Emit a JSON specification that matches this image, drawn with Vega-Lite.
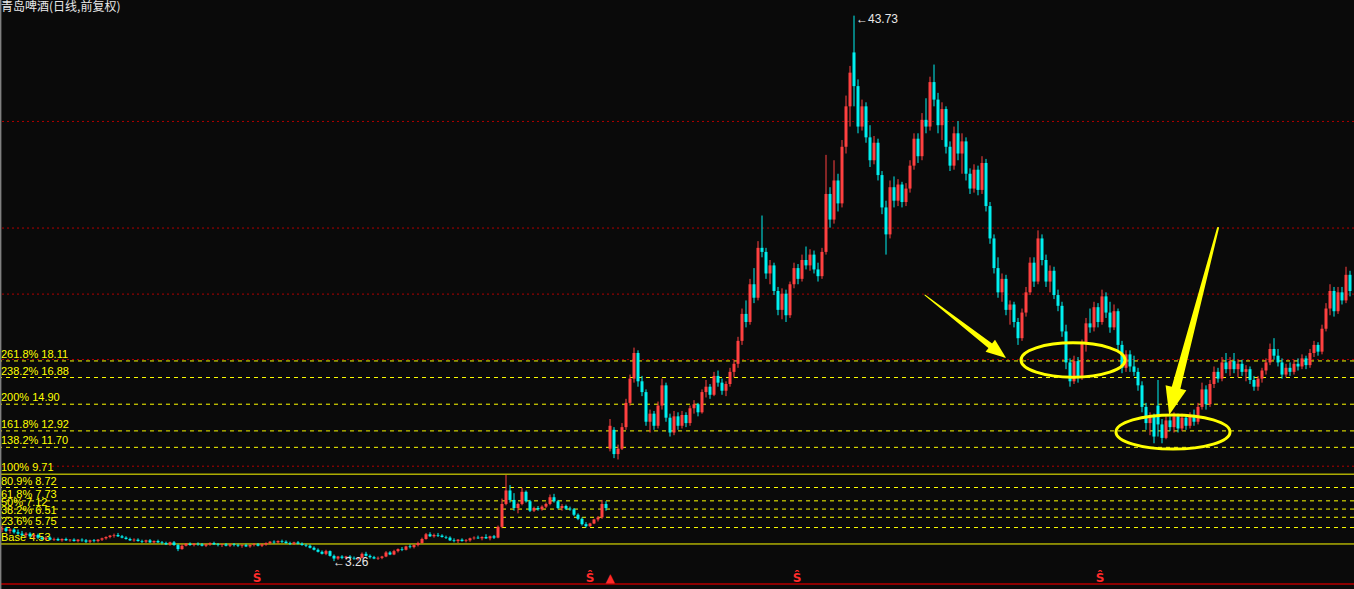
{
"$schema": "https://vega.github.io/schema/vega-lite/v6.json",
"width": 1354, "height": 589,
"autosize": {"type": "none"},
"padding": 0,
"background": "#0a0a0a",
"config": {"view": {"stroke": null}, "scale": {"continuousPadding": 0}},
"datasets": {
"candles": [
{"i":0,"o":5.6,"h":5.9,"l":5.4,"c":5.7},{"i":1,"o":5.7,"h":5.8,"l":5.4,"c":5.5},{"i":2,"o":5.5,"h":5.7,"l":5.3,"c":5.6},{"i":3,"o":5.6,"h":5.7,"l":5.3,"c":5.4},{"i":4,"o":5.4,"h":5.6,"l":5.2,"c":5.3},
{"i":5,"o":5.3,"h":5.5,"l":5.1,"c":5.2},{"i":6,"o":5.2,"h":5.4,"l":5.0,"c":5.3},{"i":7,"o":5.3,"h":5.4,"l":5.0,"c":5.1},{"i":8,"o":5.1,"h":5.3,"l":4.9,"c":5.2},{"i":9,"o":5.2,"h":5.3,"l":4.9,"c":5.0},
{"i":10,"o":5.0,"h":5.1,"l":4.8,"c":4.9},{"i":11,"o":4.9,"h":5.1,"l":4.8,"c":5.0},{"i":12,"o":5.0,"h":5.1,"l":4.8,"c":4.85},{"i":13,"o":4.85,"h":5.0,"l":4.75,"c":4.9},{"i":14,"o":4.9,"h":5.0,"l":4.75,"c":4.8},
{"i":15,"o":4.8,"h":4.95,"l":4.7,"c":4.9},{"i":16,"o":4.9,"h":5.0,"l":4.75,"c":4.8},{"i":17,"o":4.8,"h":4.9,"l":4.7,"c":4.85},{"i":18,"o":4.85,"h":4.95,"l":4.7,"c":4.75},{"i":19,"o":4.75,"h":4.9,"l":4.65,"c":4.85},
{"i":20,"o":4.85,"h":4.95,"l":4.7,"c":4.8},{"i":21,"o":4.8,"h":4.9,"l":4.6,"c":4.7},{"i":22,"o":4.7,"h":4.85,"l":4.6,"c":4.8},{"i":23,"o":4.8,"h":4.9,"l":4.65,"c":4.75},{"i":24,"o":4.75,"h":4.9,"l":4.65,"c":4.85},
{"i":25,"o":4.85,"h":5.0,"l":4.75,"c":4.95},{"i":26,"o":4.95,"h":5.1,"l":4.85,"c":5.05},{"i":27,"o":5.05,"h":5.2,"l":4.95,"c":5.15},{"i":28,"o":5.15,"h":5.3,"l":5.0,"c":5.2},{"i":29,"o":5.2,"h":5.35,"l":5.05,"c":5.1},
{"i":30,"o":5.1,"h":5.2,"l":4.95,"c":5.0},{"i":31,"o":5.0,"h":5.1,"l":4.85,"c":4.9},{"i":32,"o":4.9,"h":5.0,"l":4.75,"c":4.8},{"i":33,"o":4.8,"h":4.95,"l":4.7,"c":4.85},{"i":34,"o":4.85,"h":4.95,"l":4.7,"c":4.75},
{"i":35,"o":4.75,"h":4.85,"l":4.6,"c":4.7},{"i":36,"o":4.7,"h":4.85,"l":4.6,"c":4.8},{"i":37,"o":4.8,"h":4.9,"l":4.6,"c":4.65},{"i":38,"o":4.65,"h":4.8,"l":4.55,"c":4.75},{"i":39,"o":4.75,"h":4.85,"l":4.6,"c":4.65},
{"i":40,"o":4.65,"h":4.75,"l":4.5,"c":4.6},{"i":41,"o":4.6,"h":4.7,"l":4.45,"c":4.5},{"i":42,"o":4.5,"h":4.7,"l":4.4,"c":4.65},{"i":43,"o":4.65,"h":4.75,"l":4.4,"c":4.45},{"i":44,"o":4.45,"h":4.55,"l":4.0,"c":4.15},
{"i":45,"o":4.15,"h":4.5,"l":4.1,"c":4.4},{"i":46,"o":4.4,"h":4.6,"l":4.35,"c":4.55},{"i":47,"o":4.55,"h":4.65,"l":4.4,"c":4.45},{"i":48,"o":4.45,"h":4.6,"l":4.35,"c":4.55},{"i":49,"o":4.55,"h":4.65,"l":4.4,"c":4.5},
{"i":50,"o":4.5,"h":4.6,"l":4.35,"c":4.4},{"i":51,"o":4.4,"h":4.55,"l":4.3,"c":4.5},{"i":52,"o":4.5,"h":4.65,"l":4.4,"c":4.6},{"i":53,"o":4.6,"h":4.7,"l":4.45,"c":4.5},{"i":54,"o":4.5,"h":4.6,"l":4.35,"c":4.45},
{"i":55,"o":4.45,"h":4.55,"l":4.3,"c":4.5},{"i":56,"o":4.5,"h":4.6,"l":4.35,"c":4.4},{"i":57,"o":4.4,"h":4.55,"l":4.3,"c":4.5},{"i":58,"o":4.5,"h":4.6,"l":4.35,"c":4.45},{"i":59,"o":4.45,"h":4.55,"l":4.3,"c":4.4},
{"i":60,"o":4.4,"h":4.5,"l":4.25,"c":4.45},{"i":61,"o":4.45,"h":4.55,"l":4.3,"c":4.35},{"i":62,"o":4.35,"h":4.5,"l":4.25,"c":4.45},{"i":63,"o":4.45,"h":4.6,"l":4.35,"c":4.5},{"i":64,"o":4.5,"h":4.6,"l":4.35,"c":4.4},
{"i":65,"o":4.4,"h":4.55,"l":4.3,"c":4.5},{"i":66,"o":4.5,"h":4.65,"l":4.4,"c":4.6},{"i":67,"o":4.6,"h":4.75,"l":4.5,"c":4.7},{"i":68,"o":4.7,"h":4.8,"l":4.55,"c":4.65},{"i":69,"o":4.65,"h":4.8,"l":4.55,"c":4.75},
{"i":70,"o":4.75,"h":4.85,"l":4.6,"c":4.7},{"i":71,"o":4.7,"h":4.8,"l":4.55,"c":4.6},{"i":72,"o":4.6,"h":4.7,"l":4.45,"c":4.55},{"i":73,"o":4.55,"h":4.7,"l":4.45,"c":4.65},{"i":74,"o":4.65,"h":4.75,"l":4.5,"c":4.55},
{"i":75,"o":4.55,"h":4.65,"l":4.4,"c":4.45},{"i":76,"o":4.45,"h":4.55,"l":4.3,"c":4.4},{"i":77,"o":4.4,"h":4.5,"l":4.2,"c":4.25},{"i":78,"o":4.25,"h":4.35,"l":4.05,"c":4.1},{"i":79,"o":4.1,"h":4.2,"l":3.9,"c":3.95},
{"i":80,"o":3.95,"h":4.05,"l":3.75,"c":3.8},{"i":81,"o":3.8,"h":4.1,"l":3.7,"c":4.0},{"i":82,"o":4.0,"h":4.05,"l":3.6,"c":3.65},{"i":83,"o":3.65,"h":3.75,"l":3.26,"c":3.45},{"i":84,"o":3.45,"h":3.65,"l":3.35,"c":3.6},
{"i":85,"o":3.6,"h":3.7,"l":3.4,"c":3.5},{"i":86,"o":3.5,"h":3.65,"l":3.4,"c":3.6},{"i":87,"o":3.6,"h":3.7,"l":3.45,"c":3.5},{"i":88,"o":3.5,"h":3.6,"l":3.35,"c":3.45},{"i":89,"o":3.45,"h":3.55,"l":3.3,"c":3.5},
{"i":90,"o":3.5,"h":3.9,"l":3.45,"c":3.8},{"i":91,"o":3.8,"h":3.95,"l":3.6,"c":3.65},{"i":92,"o":3.65,"h":3.75,"l":3.45,"c":3.55},{"i":93,"o":3.55,"h":3.65,"l":3.4,"c":3.45},{"i":94,"o":3.45,"h":3.6,"l":3.35,"c":3.5},
{"i":95,"o":3.5,"h":3.65,"l":3.4,"c":3.6},{"i":96,"o":3.6,"h":4.0,"l":3.55,"c":3.9},{"i":97,"o":3.9,"h":4.0,"l":3.7,"c":3.75},{"i":98,"o":3.75,"h":4.1,"l":3.7,"c":4.0},{"i":99,"o":4.0,"h":4.2,"l":3.9,"c":4.15},
{"i":100,"o":4.15,"h":4.3,"l":4.0,"c":4.1},{"i":101,"o":4.1,"h":4.4,"l":4.05,"c":4.35},{"i":102,"o":4.35,"h":4.5,"l":4.2,"c":4.3},{"i":103,"o":4.3,"h":4.5,"l":4.2,"c":4.45},{"i":104,"o":4.45,"h":4.7,"l":4.35,"c":4.6},
{"i":105,"o":4.6,"h":5.0,"l":4.55,"c":4.9},{"i":106,"o":4.9,"h":5.35,"l":4.85,"c":5.25},{"i":107,"o":5.25,"h":5.4,"l":5.05,"c":5.1},{"i":108,"o":5.1,"h":5.3,"l":5.0,"c":5.2},{"i":109,"o":5.2,"h":5.35,"l":5.05,"c":5.15},
{"i":110,"o":5.15,"h":5.25,"l":5.0,"c":5.05},{"i":111,"o":5.05,"h":5.15,"l":4.9,"c":5.0},{"i":112,"o":5.0,"h":5.1,"l":4.75,"c":4.8},{"i":113,"o":4.8,"h":4.95,"l":4.65,"c":4.75},{"i":114,"o":4.75,"h":4.9,"l":4.6,"c":4.85},
{"i":115,"o":4.85,"h":4.95,"l":4.7,"c":4.75},{"i":116,"o":4.75,"h":4.9,"l":4.65,"c":4.8},{"i":117,"o":4.8,"h":5.0,"l":4.7,"c":4.95},{"i":118,"o":4.95,"h":5.1,"l":4.85,"c":5.0},{"i":119,"o":5.0,"h":5.15,"l":4.9,"c":4.95},
{"i":120,"o":4.95,"h":5.1,"l":4.8,"c":5.05},{"i":121,"o":5.05,"h":5.25,"l":4.9,"c":4.95},{"i":122,"o":4.95,"h":5.15,"l":4.8,"c":5.1},{"i":123,"o":5.1,"h":5.2,"l":4.9,"c":5.0},{"i":124,"o":5.0,"h":5.9,"l":4.95,"c":5.8},
{"i":125,"o":5.8,"h":7.9,"l":5.7,"c":7.5},{"i":126,"o":7.5,"h":9.65,"l":7.4,"c":8.5},{"i":127,"o":8.5,"h":8.9,"l":7.6,"c":7.8},{"i":128,"o":7.8,"h":8.3,"l":7.0,"c":7.2},{"i":129,"o":7.2,"h":7.6,"l":6.8,"c":7.5},
{"i":130,"o":7.5,"h":8.7,"l":7.4,"c":8.4},{"i":131,"o":8.4,"h":8.5,"l":7.6,"c":7.7},{"i":132,"o":7.7,"h":7.8,"l":6.9,"c":7.0},{"i":133,"o":7.0,"h":7.3,"l":6.9,"c":7.2},{"i":134,"o":7.2,"h":7.35,"l":7.0,"c":7.1},
{"i":135,"o":7.1,"h":7.4,"l":7.0,"c":7.3},{"i":136,"o":7.3,"h":7.6,"l":7.2,"c":7.5},{"i":137,"o":7.5,"h":8.2,"l":7.4,"c":8.0},{"i":138,"o":8.0,"h":8.25,"l":7.6,"c":7.7},{"i":139,"o":7.7,"h":7.8,"l":7.1,"c":7.2},
{"i":140,"o":7.2,"h":7.5,"l":7.0,"c":7.35},{"i":141,"o":7.35,"h":7.45,"l":7.05,"c":7.15},{"i":142,"o":7.15,"h":7.3,"l":7.0,"c":7.1},{"i":143,"o":7.1,"h":7.2,"l":6.6,"c":6.7},{"i":144,"o":6.7,"h":6.8,"l":6.3,"c":6.4},
{"i":145,"o":6.4,"h":6.5,"l":5.9,"c":6.0},{"i":146,"o":6.0,"h":6.15,"l":5.75,"c":5.85},{"i":147,"o":5.85,"h":6.1,"l":5.8,"c":6.05},{"i":148,"o":6.05,"h":6.4,"l":6.0,"c":6.35},{"i":149,"o":6.35,"h":6.6,"l":6.2,"c":6.5},
{"i":150,"o":6.5,"h":7.8,"l":6.4,"c":7.5},{"i":151,"o":7.5,"h":7.7,"l":7.0,"c":7.2},{"i":152,"o":11.6,"h":13.8,"l":11.4,"c":13.3},{"i":153,"o":13.0,"h":13.2,"l":10.9,"c":11.2},{"i":154,"o":11.2,"h":11.9,"l":10.8,"c":11.6},
{"i":155,"o":11.6,"h":13.5,"l":11.5,"c":13.2},{"i":156,"o":13.2,"h":15.3,"l":13.0,"c":15.0},{"i":157,"o":15.0,"h":17.1,"l":14.8,"c":16.8},{"i":158,"o":16.8,"h":19.1,"l":16.5,"c":18.7},{"i":159,"o":18.7,"h":18.9,"l":16.2,"c":16.6},
{"i":160,"o":16.6,"h":17.0,"l":15.5,"c":15.8},{"i":161,"o":15.8,"h":16.0,"l":13.3,"c":13.6},{"i":162,"o":13.6,"h":14.5,"l":12.8,"c":14.2},{"i":163,"o":14.2,"h":14.4,"l":13.0,"c":13.3},{"i":164,"o":13.3,"h":15.1,"l":13.1,"c":14.8},
{"i":165,"o":14.8,"h":16.8,"l":14.5,"c":16.3},{"i":166,"o":16.3,"h":16.5,"l":13.6,"c":13.9},{"i":167,"o":13.9,"h":14.2,"l":12.5,"c":12.8},{"i":168,"o":12.8,"h":14.4,"l":12.6,"c":14.0},{"i":169,"o":14.0,"h":14.3,"l":13.0,"c":13.3},
{"i":170,"o":13.3,"h":14.4,"l":13.1,"c":14.1},{"i":171,"o":14.1,"h":14.3,"l":13.2,"c":13.5},{"i":172,"o":13.5,"h":14.8,"l":13.3,"c":14.6},{"i":173,"o":14.6,"h":15.2,"l":14.2,"c":14.9},{"i":174,"o":14.9,"h":15.0,"l":14.0,"c":14.3},
{"i":175,"o":14.3,"h":16.0,"l":14.2,"c":15.8},{"i":176,"o":15.8,"h":16.7,"l":15.4,"c":16.2},{"i":177,"o":16.2,"h":16.4,"l":15.3,"c":15.6},{"i":178,"o":15.6,"h":17.3,"l":15.5,"c":17.0},{"i":179,"o":17.0,"h":17.4,"l":16.2,"c":16.5},
{"i":180,"o":16.5,"h":16.8,"l":15.6,"c":15.9},{"i":181,"o":15.9,"h":16.6,"l":15.5,"c":16.4},{"i":182,"o":16.4,"h":17.6,"l":16.2,"c":17.3},{"i":183,"o":17.3,"h":18.2,"l":16.9,"c":17.9},{"i":184,"o":17.9,"h":19.9,"l":17.6,"c":19.6},
{"i":185,"o":19.6,"h":22.0,"l":19.3,"c":21.6},{"i":186,"o":21.6,"h":22.6,"l":20.6,"c":21.0},{"i":187,"o":21.0,"h":24.2,"l":20.8,"c":23.8},{"i":188,"o":23.8,"h":25.0,"l":22.4,"c":22.8},{"i":189,"o":22.8,"h":27.0,"l":22.6,"c":26.5},
{"i":190,"o":26.5,"h":28.9,"l":25.8,"c":26.2},{"i":191,"o":26.2,"h":26.5,"l":24.2,"c":24.6},{"i":192,"o":24.6,"h":25.6,"l":23.8,"c":25.2},{"i":193,"o":25.2,"h":25.4,"l":23.0,"c":23.3},{"i":194,"o":23.3,"h":23.6,"l":21.5,"c":21.9},
{"i":195,"o":21.9,"h":23.5,"l":21.2,"c":23.1},{"i":196,"o":23.1,"h":23.4,"l":21.0,"c":21.5},{"i":197,"o":21.5,"h":24.0,"l":21.3,"c":23.8},{"i":198,"o":23.8,"h":25.4,"l":23.5,"c":25.0},{"i":199,"o":25.0,"h":25.3,"l":23.8,"c":24.2},
{"i":200,"o":24.2,"h":26.0,"l":24.0,"c":25.6},{"i":201,"o":25.6,"h":26.6,"l":24.9,"c":25.2},{"i":202,"o":25.2,"h":26.4,"l":24.8,"c":26.0},{"i":203,"o":26.0,"h":26.3,"l":24.6,"c":24.9},{"i":204,"o":24.9,"h":25.4,"l":24.0,"c":24.4},
{"i":205,"o":24.4,"h":26.5,"l":24.2,"c":26.2},{"i":206,"o":26.2,"h":33.4,"l":26.0,"c":30.5},{"i":207,"o":30.5,"h":31.0,"l":28.0,"c":28.6},{"i":208,"o":28.6,"h":33.0,"l":28.3,"c":31.5},{"i":209,"o":31.5,"h":32.0,"l":29.2,"c":29.8},
{"i":210,"o":29.8,"h":34.5,"l":29.5,"c":34.0},{"i":211,"o":34.0,"h":37.8,"l":33.5,"c":37.0},{"i":212,"o":37.0,"h":40.0,"l":35.5,"c":39.5},{"i":213,"o":41.0,"h":43.73,"l":37.0,"c":38.5},{"i":214,"o":38.5,"h":39.0,"l":35.0,"c":35.5},
{"i":215,"o":35.5,"h":37.5,"l":35.2,"c":37.0},{"i":216,"o":37.0,"h":37.3,"l":34.3,"c":34.7},{"i":217,"o":34.7,"h":35.6,"l":32.5,"c":33.0},{"i":218,"o":33.0,"h":34.8,"l":32.7,"c":34.3},{"i":219,"o":34.3,"h":34.6,"l":31.5,"c":31.9},
{"i":220,"o":31.9,"h":32.2,"l":29.0,"c":29.5},{"i":221,"o":29.5,"h":30.0,"l":26.0,"c":27.5},{"i":222,"o":27.5,"h":31.5,"l":27.2,"c":31.0},{"i":223,"o":31.0,"h":31.8,"l":29.5,"c":30.0},{"i":224,"o":30.0,"h":31.6,"l":29.6,"c":31.2},
{"i":225,"o":31.2,"h":31.4,"l":29.5,"c":29.9},{"i":226,"o":29.9,"h":31.3,"l":29.6,"c":30.9},{"i":227,"o":30.9,"h":33.0,"l":30.6,"c":32.6},{"i":228,"o":32.6,"h":35.0,"l":32.3,"c":34.6},{"i":229,"o":34.6,"h":35.0,"l":32.8,"c":33.3},
{"i":230,"o":33.3,"h":36.5,"l":33.0,"c":36.0},{"i":231,"o":36.0,"h":37.6,"l":35.0,"c":35.5},{"i":232,"o":35.5,"h":39.2,"l":35.2,"c":38.8},{"i":233,"o":38.8,"h":40.1,"l":37.0,"c":37.5},{"i":234,"o":37.5,"h":38.0,"l":35.0,"c":35.6},
{"i":235,"o":35.6,"h":37.3,"l":34.5,"c":36.8},{"i":236,"o":36.8,"h":37.0,"l":33.5,"c":34.0},{"i":237,"o":34.0,"h":34.4,"l":32.2,"c":32.6},{"i":238,"o":32.6,"h":35.5,"l":32.3,"c":35.0},{"i":239,"o":35.0,"h":35.9,"l":33.0,"c":33.5},
{"i":240,"o":33.5,"h":35.0,"l":32.0,"c":34.4},{"i":241,"o":34.4,"h":34.7,"l":31.5,"c":32.0},{"i":242,"o":32.0,"h":32.4,"l":30.5,"c":30.9},{"i":243,"o":30.9,"h":32.7,"l":30.6,"c":32.3},{"i":244,"o":32.3,"h":32.6,"l":30.4,"c":30.8},
{"i":245,"o":30.8,"h":33.3,"l":30.5,"c":32.8},{"i":246,"o":32.8,"h":33.1,"l":29.2,"c":29.6},{"i":247,"o":29.6,"h":29.9,"l":26.8,"c":27.2},{"i":248,"o":27.2,"h":27.5,"l":24.6,"c":25.0},{"i":249,"o":25.0,"h":25.8,"l":22.8,"c":23.2},
{"i":250,"o":23.2,"h":24.6,"l":22.5,"c":24.2},{"i":251,"o":24.2,"h":24.5,"l":21.5,"c":21.9},{"i":252,"o":21.9,"h":22.6,"l":20.8,"c":22.3},{"i":253,"o":22.3,"h":22.5,"l":20.6,"c":21.0},{"i":254,"o":21.0,"h":21.3,"l":19.3,"c":19.8},
{"i":255,"o":19.8,"h":22.0,"l":19.6,"c":21.7},{"i":256,"o":21.7,"h":23.6,"l":21.4,"c":23.2},{"i":257,"o":23.2,"h":25.8,"l":23.0,"c":25.4},{"i":258,"o":25.4,"h":25.8,"l":23.6,"c":24.0},{"i":259,"o":24.0,"h":27.8,"l":23.8,"c":27.2},
{"i":260,"o":27.2,"h":27.5,"l":25.2,"c":25.6},{"i":261,"o":25.6,"h":26.0,"l":23.6,"c":24.0},{"i":262,"o":24.0,"h":25.2,"l":23.2,"c":24.8},{"i":263,"o":24.8,"h":25.1,"l":22.7,"c":23.0},{"i":264,"o":23.0,"h":23.4,"l":21.8,"c":22.2},
{"i":265,"o":22.2,"h":22.5,"l":19.9,"c":20.3},{"i":266,"o":20.3,"h":20.8,"l":17.5,"c":18.0},{"i":267,"o":18.0,"h":18.3,"l":16.2,"c":16.6},{"i":268,"o":16.6,"h":18.5,"l":16.4,"c":18.1},{"i":269,"o":18.1,"h":18.4,"l":16.5,"c":16.9},
{"i":270,"o":16.9,"h":19.7,"l":16.7,"c":19.4},{"i":271,"o":19.4,"h":21.3,"l":18.8,"c":20.9},{"i":272,"o":20.9,"h":22.0,"l":20.2,"c":20.6},{"i":273,"o":20.6,"h":22.5,"l":20.3,"c":22.1},{"i":274,"o":22.1,"h":22.4,"l":20.6,"c":21.0},
{"i":275,"o":21.0,"h":23.4,"l":20.8,"c":22.9},{"i":276,"o":22.9,"h":23.2,"l":21.3,"c":21.7},{"i":277,"o":21.7,"h":22.5,"l":20.2,"c":20.6},{"i":278,"o":20.6,"h":22.3,"l":20.4,"c":21.8},{"i":279,"o":21.8,"h":22.0,"l":18.9,"c":19.3},
{"i":280,"o":19.3,"h":19.6,"l":17.2,"c":17.6},{"i":281,"o":17.6,"h":18.9,"l":17.3,"c":18.6},{"i":282,"o":18.6,"h":18.9,"l":17.3,"c":17.7},{"i":283,"o":17.7,"h":18.5,"l":17.0,"c":17.3},{"i":284,"o":17.3,"h":17.6,"l":15.9,"c":16.3},
{"i":285,"o":16.3,"h":16.6,"l":14.3,"c":14.7},{"i":286,"o":14.7,"h":15.0,"l":13.0,"c":13.5},{"i":287,"o":13.5,"h":14.3,"l":12.6,"c":14.0},{"i":288,"o":14.0,"h":14.2,"l":12.0,"c":12.5},{"i":289,"o":14.8,"h":16.7,"l":12.5,"c":13.4},
{"i":290,"o":13.4,"h":13.8,"l":12.0,"c":12.4},{"i":291,"o":12.4,"h":14.0,"l":12.3,"c":13.7},{"i":292,"o":13.7,"h":14.0,"l":12.9,"c":13.2},{"i":293,"o":13.2,"h":14.3,"l":12.8,"c":14.0},{"i":294,"o":14.0,"h":14.2,"l":12.8,"c":13.1},
{"i":295,"o":13.1,"h":14.2,"l":12.9,"c":13.9},{"i":296,"o":13.9,"h":14.1,"l":13.0,"c":13.3},{"i":297,"o":13.3,"h":14.3,"l":13.1,"c":14.0},{"i":298,"o":14.0,"h":14.5,"l":13.3,"c":13.6},{"i":299,"o":13.6,"h":15.0,"l":13.4,"c":14.7},
{"i":300,"o":14.7,"h":16.5,"l":14.5,"c":16.0},{"i":301,"o":16.0,"h":16.3,"l":14.5,"c":14.9},{"i":302,"o":14.9,"h":16.7,"l":14.7,"c":16.4},{"i":303,"o":16.4,"h":17.7,"l":16.1,"c":17.3},{"i":304,"o":17.3,"h":17.6,"l":16.5,"c":16.8},
{"i":305,"o":16.8,"h":18.4,"l":16.6,"c":18.0},{"i":306,"o":18.0,"h":18.7,"l":17.2,"c":17.5},{"i":307,"o":17.5,"h":18.4,"l":17.0,"c":18.1},{"i":308,"o":18.1,"h":18.7,"l":17.2,"c":17.5},{"i":309,"o":17.5,"h":18.2,"l":16.9,"c":17.9},
{"i":310,"o":17.9,"h":18.2,"l":17.0,"c":17.3},{"i":311,"o":17.3,"h":17.8,"l":16.6,"c":17.5},{"i":312,"o":17.5,"h":17.7,"l":16.4,"c":16.7},{"i":313,"o":16.7,"h":17.0,"l":15.9,"c":16.2},{"i":314,"o":16.2,"h":17.0,"l":15.9,"c":16.8},
{"i":315,"o":16.8,"h":17.6,"l":16.5,"c":17.4},{"i":316,"o":17.4,"h":18.3,"l":17.1,"c":18.0},{"i":317,"o":18.0,"h":19.4,"l":17.8,"c":19.0},{"i":318,"o":19.0,"h":19.8,"l":18.2,"c":18.5},{"i":319,"o":18.5,"h":19.0,"l":17.7,"c":18.0},
{"i":320,"o":18.0,"h":18.3,"l":16.8,"c":17.1},{"i":321,"o":17.1,"h":17.9,"l":16.9,"c":17.6},{"i":322,"o":17.6,"h":18.0,"l":17.0,"c":17.3},{"i":323,"o":17.3,"h":18.2,"l":17.1,"c":17.9},{"i":324,"o":17.9,"h":18.3,"l":17.4,"c":17.7},
{"i":325,"o":17.7,"h":18.6,"l":17.5,"c":18.3},{"i":326,"o":18.3,"h":18.5,"l":17.5,"c":17.8},{"i":327,"o":17.8,"h":19.0,"l":17.6,"c":18.7},{"i":328,"o":18.7,"h":19.6,"l":18.4,"c":19.3},{"i":329,"o":19.3,"h":19.5,"l":18.5,"c":18.8},
{"i":330,"o":18.8,"h":20.8,"l":18.6,"c":20.5},{"i":331,"o":20.5,"h":22.4,"l":20.3,"c":22.0},{"i":332,"o":22.0,"h":23.8,"l":21.5,"c":23.3},{"i":333,"o":23.3,"h":23.6,"l":21.4,"c":21.8},{"i":334,"o":21.8,"h":23.6,"l":21.6,"c":23.2},
{"i":335,"o":23.2,"h":23.6,"l":22.3,"c":22.6},{"i":336,"o":22.6,"h":25.1,"l":22.4,"c":24.5},{"i":337,"o":24.5,"h":24.8,"l":22.9,"c":23.3}
],
"fib": [
{"p":18.11,"t":"261.8% 18.11","kind":"level"},{"p":16.88,"t":"238.2% 16.88","kind":"level"},{"p":14.90,"t":"200% 14.90","kind":"level"},
{"p":12.92,"t":"161.8% 12.92","kind":"level"},{"p":11.70,"t":"138.2% 11.70","kind":"level"},{"p":9.71,"t":"100% 9.71","kind":"bound"},
{"p":8.72,"t":"80.9% 8.72","kind":"level"},{"p":7.73,"t":"61.8% 7.73","kind":"level"},{"p":7.12,"t":"50% 7.12","kind":"level"},
{"p":6.51,"t":"38.2% 6.51","kind":"level"},{"p":5.75,"t":"23.6% 5.75","kind":"level"},{"p":4.53,"t":"Base 4.53","kind":"bound"}
],
"grid": [{"p":35.88},{"p":27.97},{"p":23.07},{"p":18.22},{"p":10.3}],
"arrows": [{"a":1,"k":0,"i":230.75,"p":23.0},{"a":1,"k":1,"i":247.5,"p":19.14},{"a":2,"k":0,"i":304,"p":27.97},{"a":2,"k":1,"i":293.25,"p":15.81}],
"heads": [{"a":1,"i":248.7,"p":18.86},{"a":2,"i":292.8,"p":15.29}],
"rings": [{"e":1,"i":267.75,"p":18.18},{"e":2,"i":292.75,"p":12.84}],
"signals": [{"i":63.75,"p":2.0,"t":"Ŝ"},{"i":147,"p":2.0,"t":"Ŝ"},{"i":152,"p":2.0,"t":"▲"},{"i":198.75,"p":2.0,"t":"Ŝ"},{"i":274.5,"p":2.0,"t":"Ŝ"}],
"extremes": [{"i":213,"p":43.73,"t":"←43.73","pos":"high"},{"i":83,"p":3.26,"t":"←3.26","pos":"low"}]
},
"layer": [
{"data":{"name":"grid"},"mark":{"type":"rule","color":"#b00000","strokeWidth":1,"strokeDash":[2,3]},
 "encoding":{"y":{"field":"p","type":"quantitative","scale":{"domain":[1.19,44.89],"nice":false,"zero":false,"padding":0},"axis":null}}},
{"data":{"values":[{"p":1.56}]},"mark":{"type":"rule","color":"#8b0000","strokeWidth":2},
 "encoding":{"y":{"field":"p","type":"quantitative","scale":{"domain":[1.19,44.89],"nice":false,"zero":false,"padding":0},"axis":null}}},
{"data":{"name":"fib"},"transform":[{"filter":"datum.kind == 'level'"}],"mark":{"type":"rule","color":"#ffff00","strokeWidth":1,"strokeDash":[4,4]},
 "encoding":{"y":{"field":"p","type":"quantitative","scale":{"domain":[1.19,44.89],"nice":false,"zero":false,"padding":0},"axis":null}}},
{"data":{"name":"fib"},"transform":[{"filter":"datum.kind == 'bound'"}],"mark":{"type":"rule","color":"#ffff00","strokeWidth":1},
 "encoding":{"y":{"field":"p","type":"quantitative","scale":{"domain":[1.19,44.89],"nice":false,"zero":false,"padding":0},"axis":null}}},
{"data":{"name":"fib"},"mark":{"type":"text","color":"#ffff00","font":"Liberation Sans","fontSize":11,"align":"left","baseline":"alphabetic","dx":1,"dy":-3},
 "encoding":{"x":{"datum":-0.5,"type":"quantitative","scale":{"domain":[-0.5,338],"nice":false,"zero":false,"padding":0},"axis":null},
  "y":{"field":"p","type":"quantitative","scale":{"domain":[1.19,44.89],"nice":false,"zero":false,"padding":0},"axis":null},
  "text":{"field":"t"}}},
{"data":{"name":"candles"},"mark":{"type":"rule","strokeWidth":1},
 "encoding":{"x":{"field":"i","type":"quantitative","scale":{"domain":[-0.5,338],"nice":false,"zero":false,"padding":0},"axis":null},
  "y":{"field":"l","type":"quantitative","scale":{"domain":[1.19,44.89],"nice":false,"zero":false,"padding":0},"axis":null},
  "y2":{"field":"h"},
  "color":{"condition":{"test":"datum.c >= datum.o","value":"#ff4040"},"value":"#00f0f0"}}},
{"data":{"name":"candles"},"mark":{"type":"bar","size":3},
 "encoding":{"x":{"field":"i","type":"quantitative","scale":{"domain":[-0.5,338],"nice":false,"zero":false,"padding":0},"axis":null},
  "y":{"field":"o","type":"quantitative","scale":{"domain":[1.19,44.89],"nice":false,"zero":false,"padding":0},"axis":null},
  "y2":{"field":"c"},
  "color":{"condition":{"test":"datum.c >= datum.o","value":"#ff4040"},"value":"#00f0f0"}}},
{"data":{"values":[{"i":-0.4}]},"mark":{"type":"rule","color":"#808080","strokeWidth":2},
 "encoding":{"x":{"field":"i","type":"quantitative","scale":{"domain":[-0.5,338],"nice":false,"zero":false,"padding":0},"axis":null}}},
{"data":{"values":[{"t":"青岛啤酒(日线,前复权)"}]},"mark":{"type":"text","color":"#e8e8e8","font":"Noto Sans CJK SC","fontSize":12,"align":"left","baseline":"top","dx":1,"dy":2},
 "encoding":{"x":{"datum":-0.5,"type":"quantitative","scale":{"domain":[-0.5,338],"nice":false,"zero":false,"padding":0},"axis":null},
  "y":{"datum":44.89,"type":"quantitative","scale":{"domain":[1.19,44.89],"nice":false,"zero":false,"padding":0},"axis":null},
  "text":{"field":"t"}}},
{"data":{"name":"extremes"},"transform":[{"filter":"datum.pos == 'high'"}],"mark":{"type":"text","color":"#e8e8e8","font":"Liberation Sans","fontSize":12,"align":"left","baseline":"top","dx":2,"dy":-2},
 "encoding":{"x":{"field":"i","type":"quantitative","scale":{"domain":[-0.5,338],"nice":false,"zero":false,"padding":0},"axis":null},
  "y":{"field":"p","type":"quantitative","scale":{"domain":[1.19,44.89],"nice":false,"zero":false,"padding":0},"axis":null},
  "text":{"field":"t"}}},
{"data":{"name":"extremes"},"transform":[{"filter":"datum.pos == 'low'"}],"mark":{"type":"text","color":"#e8e8e8","font":"Liberation Sans","fontSize":12,"align":"left","baseline":"middle","dx":-1,"dy":1},
 "encoding":{"x":{"field":"i","type":"quantitative","scale":{"domain":[-0.5,338],"nice":false,"zero":false,"padding":0},"axis":null},
  "y":{"field":"p","type":"quantitative","scale":{"domain":[1.19,44.89],"nice":false,"zero":false,"padding":0},"axis":null},
  "text":{"field":"t"}}},
{"data":{"name":"signals"},"mark":{"type":"text","color":"#ff2a2a","font":"DejaVu Sans","fontSize":12,"fontWeight":"bold","align":"center","baseline":"middle"},
 "encoding":{"x":{"field":"i","type":"quantitative","scale":{"domain":[-0.5,338],"nice":false,"zero":false,"padding":0},"axis":null},
  "y":{"field":"p","type":"quantitative","scale":{"domain":[1.19,44.89],"nice":false,"zero":false,"padding":0},"axis":null},
  "text":{"field":"t"}}},
{"data":{"name":"rings"},"transform":[{"filter":"datum.e == 1"}],"mark":{"type":"point","shape":"M -1 0 A 1 0.33 0 1 1 1 0 A 1 0.33 0 1 1 -1 0 Z","size":10816,"filled":false,"color":"#ffff00","strokeWidth":3,"opacity":1},
 "encoding":{"x":{"field":"i","type":"quantitative","scale":{"domain":[-0.5,338],"nice":false,"zero":false,"padding":0},"axis":null},
  "y":{"field":"p","type":"quantitative","scale":{"domain":[1.19,44.89],"nice":false,"zero":false,"padding":0},"axis":null}}},
{"data":{"name":"rings"},"transform":[{"filter":"datum.e == 2"}],"mark":{"type":"point","shape":"M -1 0 A 1 0.3 0 1 1 1 0 A 1 0.3 0 1 1 -1 0 Z","size":12996,"filled":false,"color":"#ffff00","strokeWidth":3,"opacity":1},
 "encoding":{"x":{"field":"i","type":"quantitative","scale":{"domain":[-0.5,338],"nice":false,"zero":false,"padding":0},"axis":null},
  "y":{"field":"p","type":"quantitative","scale":{"domain":[1.19,44.89],"nice":false,"zero":false,"padding":0},"axis":null}}},
{"data":{"name":"arrows"},"transform":[{"filter":"datum.a == 1"}],"mark":{"type":"trail","color":"#ffff00"},
 "encoding":{"x":{"field":"i","type":"quantitative","scale":{"domain":[-0.5,338],"nice":false,"zero":false,"padding":0},"axis":null},
  "y":{"field":"p","type":"quantitative","scale":{"domain":[1.19,44.89],"nice":false,"zero":false,"padding":0},"axis":null},
  "order":{"field":"k","type":"quantitative"},
  "size":{"field":"k","type":"quantitative","scale":{"domain":[0,1],"range":[1,6]},"legend":null}}},
{"data":{"name":"arrows"},"transform":[{"filter":"datum.a == 2"}],"mark":{"type":"trail","color":"#ffff00"},
 "encoding":{"x":{"field":"i","type":"quantitative","scale":{"domain":[-0.5,338],"nice":false,"zero":false,"padding":0},"axis":null},
  "y":{"field":"p","type":"quantitative","scale":{"domain":[1.19,44.89],"nice":false,"zero":false,"padding":0},"axis":null},
  "order":{"field":"k","type":"quantitative"},
  "size":{"field":"k","type":"quantitative","scale":{"domain":[0,1],"range":[2,9]},"legend":null}}},
{"data":{"name":"heads"},"transform":[{"filter":"datum.a == 1"}],"mark":{"type":"point","shape":"M 0 -1 L 0.65 0.7 L -0.65 0.7 Z","size":557,"filled":true,"color":"#ffff00","opacity":1,"angle":128},
 "encoding":{"x":{"field":"i","type":"quantitative","scale":{"domain":[-0.5,338],"nice":false,"zero":false,"padding":0},"axis":null},
  "y":{"field":"p","type":"quantitative","scale":{"domain":[1.19,44.89],"nice":false,"zero":false,"padding":0},"axis":null}}},
{"data":{"name":"heads"},"transform":[{"filter":"datum.a == 2"}],"mark":{"type":"point","shape":"M 0 -1 L 0.65 0.7 L -0.65 0.7 Z","size":1089,"filled":true,"color":"#ffff00","opacity":1,"angle":194},
 "encoding":{"x":{"field":"i","type":"quantitative","scale":{"domain":[-0.5,338],"nice":false,"zero":false,"padding":0},"axis":null},
  "y":{"field":"p","type":"quantitative","scale":{"domain":[1.19,44.89],"nice":false,"zero":false,"padding":0},"axis":null}}}
],
"resolve": {"scale": {"size": "independent"}}
}
